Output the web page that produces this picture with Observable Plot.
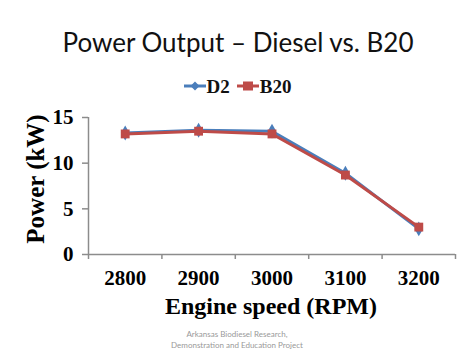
<!DOCTYPE html>
<html><head><meta charset="utf-8">
<script src="https://cdn.jsdelivr.net/npm/d3@7"></script>
<script src="https://cdn.jsdelivr.net/npm/@observablehq/plot@0.6"></script>
<style>
html,body{margin:0;padding:0;background:#fff;}
#wrap{position:relative;width:474px;height:355px;overflow:hidden;}
.abs{position:absolute;white-space:nowrap;}
#title{left:0;width:474px;padding-left:2px;box-sizing:border-box;top:26px;text-align:center;font-family:Lato,"Open Sans",sans-serif;font-size:26px;color:#111;}
#legend{left:0;width:474px;top:76px;text-align:center;font-family:"Liberation Serif",serif;font-weight:bold;font-size:19px;color:#111;}
#ylab{left:36px;top:179px;transform:translate(-50%,-50%) rotate(-90deg);font-family:"Liberation Serif",serif;font-weight:bold;font-size:25px;color:#000;}
#xlab{left:0;width:474px;padding-left:68px;box-sizing:border-box;top:293px;text-align:center;font-family:"Liberation Serif",serif;font-weight:bold;font-size:24px;color:#000;}
#cap{left:0;width:474px;padding-left:0px;box-sizing:border-box;top:329px;text-align:center;font-family:Lato,sans-serif;font-size:8px;line-height:10.5px;color:#999;}
#plot{position:absolute;left:0;top:100px;}
</style></head>
<body><div id="wrap">
<div id="title" class="abs">Power Output – Diesel vs. B20</div>
<div id="legend" class="abs"></div>
<div id="plot"></div>
<div id="ylab" class="abs">Power (kW)</div>
<div id="xlab" class="abs">Engine speed (RPM)</div>
<div id="cap" class="abs">Arkansas Biodiesel Research,<br>Demonstration and Education Project</div>
</div>
<script>
const rpm = [2800, 2900, 3000, 3100, 3200];
const d2 = [13.3, 13.6, 13.5, 8.9, 2.8];
const b20 = [13.2, 13.5, 13.2, 8.7, 3.0];
const yTicks = [0, 5, 10, 15];
const xEdges = [2750, 2850, 2950, 3050, 3150, 3250];
const seriesNames = ["D2", "B20"];
const colors = ["#4a7ebb", "#be4b48"];

const data = [
  ...rpm.map((r, i) => ({rpm: r, power: d2[i], series: "D2"})),
  ...rpm.map((r, i) => ({rpm: r, power: b20[i], series: "B20"}))
];

const axisGray = "#8c8c8c";
const plot = Plot.plot({
  width: 474, height: 220,
  marginLeft: 88, marginRight: 19, marginTop: 17, marginBottom: 66,
  x: {domain: [2750, 3250]},
  y: {domain: [0, 15]},
  color: {domain: seriesNames, range: colors},
  style: {fontFamily: "'Liberation Serif', serif", fontWeight: "bold", fontSize: "21px", color: "#000", background: "transparent"},
  marks: [
    Plot.ruleY([0], {stroke: axisGray, strokeWidth: 1.5}),
    Plot.ruleX([2750], {stroke: axisGray, strokeWidth: 1.5}),
    Plot.axisY({ticks: yTicks, tickSize: 6, tickFormat: () => "", label: null, stroke: axisGray, strokeWidth: 1.5}),
    Plot.axisY({ticks: yTicks, tickSize: 0, tickPadding: 15, tickFormat: d => String(d), label: null, fill: "#000", fontSize: 21}),
    Plot.axisX({ticks: xEdges, tickSize: 5, tickFormat: () => "", label: null, stroke: axisGray, strokeWidth: 1.5}),
    Plot.axisX({ticks: rpm, tickSize: 0, tickPadding: 16, tickFormat: d => String(d), label: null, fill: "#000", fontSize: 21}),
    Plot.line(data.filter(d => d.series === "D2"), {x: "rpm", y: "power", stroke: colors[0], strokeWidth: 3}),
    Plot.line(data.filter(d => d.series === "B20"), {x: "rpm", y: "power", stroke: colors[1], strokeWidth: 3}),
    Plot.dot(data.filter(d => d.series === "D2"), {x: "rpm", y: "power", symbol: "diamond", fill: colors[0], r: 4.5}),
    Plot.dot(data.filter(d => d.series === "B20"), {x: "rpm", y: "power", symbol: "square", fill: colors[1], r: 5})
  ]
});
document.getElementById("plot").appendChild(plot);

// legend
const leg = document.getElementById("legend");
seriesNames.forEach((name, i) => {
  const span = document.createElement("span");
  span.style.marginRight = i === 0 ? "6px" : "0";
  const sym = i === 0
    ? `<svg width="24" height="12" style="vertical-align:1px"><line x1="1" y1="6" x2="23" y2="6" stroke="${colors[i]}" stroke-width="3"/><path d="M12 1.5 L16.5 6 L12 10.5 L7.5 6Z" fill="${colors[i]}"/></svg>`
    : `<svg width="24" height="12" style="vertical-align:1px"><line x1="1" y1="6" x2="23" y2="6" stroke="${colors[i]}" stroke-width="3"/><rect x="7" y="1.5" width="10" height="9" fill="${colors[i]}"/></svg>`;
  span.innerHTML = sym + name;
  leg.appendChild(span);
});
</script>
</body></html>
